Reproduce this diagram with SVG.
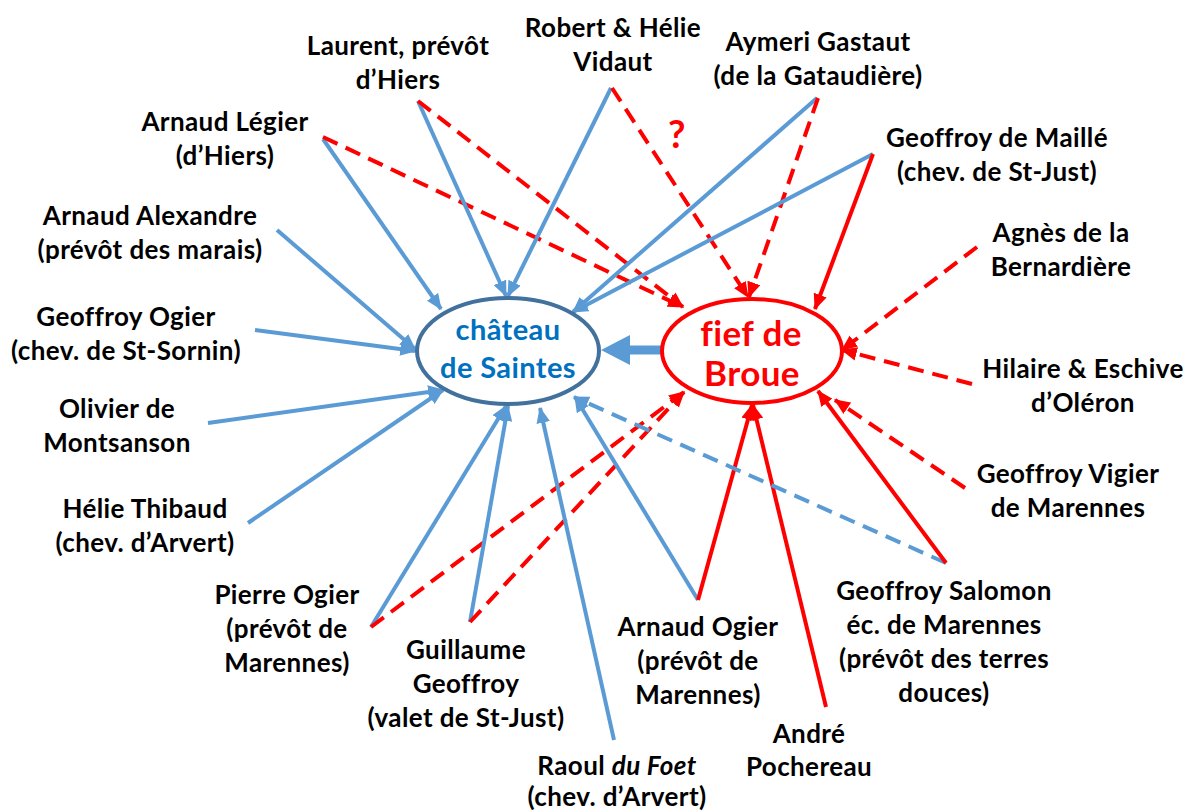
<svg xmlns="http://www.w3.org/2000/svg" width="1186" height="812" viewBox="0 0 1186 812">
<defs>
<style>
text{font-family:Lato,"Open Sans","Liberation Sans",sans-serif;font-weight:bold;font-size:26px;letter-spacing:0.4px;fill:#000;text-anchor:middle;font-variant-ligatures:none}
.b{stroke:#5B9BD5;stroke-width:4;fill:none}
.r{stroke:#FF0000;stroke-width:4;fill:none}
.d{stroke-dasharray:16 9}
.bm{marker-end:url(#ab)}
.rm{marker-end:url(#ar)}
.cs{fill:#0070C0;font-size:29px}
.fb{fill:#FF0000;font-size:35px}
</style>
<marker id="ab" viewBox="0 0 14 12" refX="13" refY="6" markerWidth="16" markerHeight="14" markerUnits="userSpaceOnUse" orient="auto"><path d="M0,0 L14,6 L0,12 z" fill="#5B9BD5"/></marker>
<marker id="ar" viewBox="0 0 14 12" refX="13" refY="6" markerWidth="16" markerHeight="14" markerUnits="userSpaceOnUse" orient="auto"><path d="M0,0 L14,6 L0,12 z" fill="#FF0000"/></marker>
</defs>
<rect width="1186" height="812" fill="#fff"/>
<g id="connectors">
<line class="b bm" x1="323" y1="139" x2="441" y2="309"/>
<line class="r d rm" x1="323" y1="137" x2="683" y2="307"/>
<line class="b bm" x1="418" y1="101" x2="506" y2="296"/>
<line class="r d rm" x1="418" y1="101" x2="683" y2="307"/>
<line class="b bm" x1="611" y1="88" x2="508" y2="296"/>
<line class="r d rm" x1="612" y1="88" x2="748" y2="297"/>
<line class="b bm" x1="817" y1="98" x2="573" y2="312"/>
<line class="r d rm" x1="818" y1="98" x2="749" y2="297"/>
<line class="b bm" x1="873" y1="154" x2="573" y2="312"/>
<line class="r rm" x1="873" y1="154" x2="815" y2="309"/>
<line class="b bm" x1="277" y1="230" x2="415" y2="349"/>
<line class="b bm" x1="255" y1="330" x2="415" y2="351"/>
<line class="b bm" x1="208" y1="423" x2="443" y2="390"/>
<line class="b bm" x1="248" y1="523" x2="443" y2="390"/>
<line class="b bm" x1="371" y1="627" x2="506" y2="406"/>
<line class="r d rm" x1="371" y1="627" x2="684" y2="392"/>
<line class="b bm" x1="470" y1="622" x2="508" y2="406"/>
<line class="r d rm" x1="470" y1="622" x2="684" y2="392"/>
<line class="b bm" x1="614" y1="740" x2="540" y2="408"/>
<line class="b bm" x1="698" y1="600" x2="575" y2="397"/>
<line class="r rm" x1="698" y1="600" x2="752" y2="405"/>
<line class="r rm" x1="826" y1="707" x2="753" y2="405"/>
<line class="b d bm" x1="946" y1="563" x2="574" y2="397"/>
<line class="r rm" x1="946" y1="563" x2="818" y2="391"/>
<line class="r d rm" x1="965" y1="488" x2="835" y2="400"/>
<line class="r d rm" x1="972" y1="384" x2="842" y2="350"/>
<line class="r d rm" x1="977" y1="247" x2="842" y2="350"/>
<line x1="661" y1="350" x2="626" y2="350" stroke="#5B9BD5" stroke-width="9"/>
<path d="M601,350 L630,335 L630,365 z" fill="#5B9BD5"/>
</g>
<text x="677" y="148" style="fill:#FF0000;font-size:38px">?</text>
<g id="saintes">
<ellipse cx="508" cy="351" rx="91" ry="53" fill="#fff" stroke="#41719C" stroke-width="4"/>
<text class="cs" x="508" y="340">château</text>
<text class="cs" x="508" y="378">de Saintes</text>
</g>
<g id="broue">
<ellipse cx="752" cy="351" rx="90" ry="52" fill="#fff" stroke="#FF0000" stroke-width="4"/>
<text class="fb" x="751" y="346">fief de</text>
<text class="fb" x="752" y="386">Broue</text>
</g>
<g id="laurent"><text x="398" y="55">Laurent, prévôt</text><text x="398" y="89">d’Hiers</text></g>
<g id="robert"><text x="613" y="37">Robert &amp; Hélie</text><text x="613" y="71">Vidaut</text></g>
<g id="aymeri"><text x="818" y="51">Aymeri Gastaut</text><text x="818" y="85">(de la Gataudière)</text></g>
<g id="legier"><text x="225" y="131">Arnaud Légier</text><text x="225" y="165">(d’Hiers)</text></g>
<g id="maille"><text x="997" y="147">Geoffroy de Maillé</text><text x="997" y="181">(chev. de St-Just)</text></g>
<g id="alexandre"><text x="150" y="225">Arnaud Alexandre</text><text x="150" y="259">(prévôt des marais)</text></g>
<g id="agnes"><text x="1061" y="242">Agnès de la</text><text x="1061" y="276">Bernardière</text></g>
<g id="gogier"><text x="126" y="326">Geoffroy Ogier</text><text x="126" y="360">(chev. de St-Sornin)</text></g>
<g id="hilaire"><text x="1083" y="378">Hilaire &amp; Eschive</text><text x="1083" y="412">d’Oléron</text></g>
<g id="olivier"><text x="117" y="418">Olivier de</text><text x="117" y="452">Montsanson</text></g>
<g id="vigier"><text x="1068" y="483">Geoffroy Vigier</text><text x="1068" y="517">de Marennes</text></g>
<g id="thibaud"><text x="145" y="518">Hélie Thibaud</text><text x="145" y="552">(chev. d’Arvert)</text></g>
<g id="salomon"><text x="944" y="600">Geoffroy Salomon</text><text x="944" y="634">éc. de Marennes</text><text x="944" y="668">(prévôt des terres</text><text x="944" y="702">douces)</text></g>
<g id="pogier"><text x="287" y="604">Pierre Ogier</text><text x="287" y="638">(prévôt de</text><text x="287" y="672">Marennes)</text></g>
<g id="guillaume"><text x="466" y="659">Guillaume</text><text x="466" y="693">Geoffroy</text><text x="466" y="727">(valet de St-Just)</text></g>
<g id="aogier"><text x="698" y="636">Arnaud Ogier</text><text x="698" y="670">(prévôt de</text><text x="698" y="704">Marennes)</text></g>
<g id="andre"><text x="809" y="743">André</text><text x="809" y="776">Pochereau</text></g>
<g id="raoul"><text x="617" y="775">Raoul <tspan font-style="italic">du Foet</tspan></text><text x="617" y="806">(chev. d’Arvert)</text></g>
</svg>
